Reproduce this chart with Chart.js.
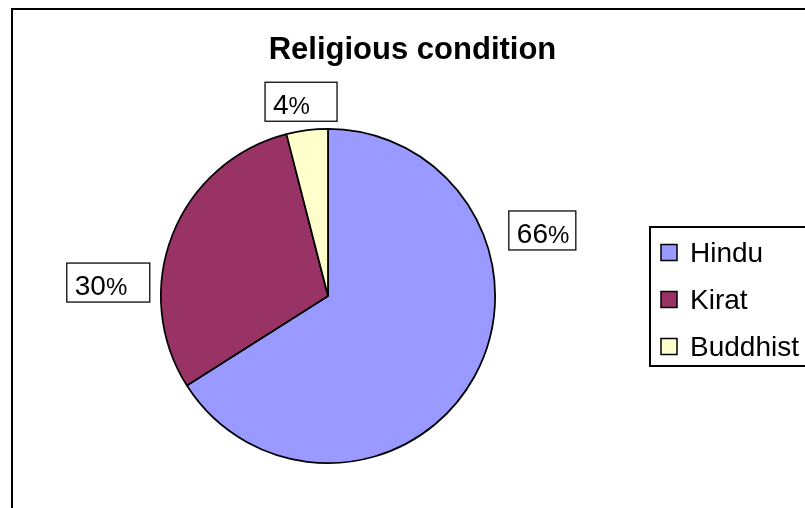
<!DOCTYPE html>
<html>
<head>
<meta charset="utf-8">
<script src="https://cdn.jsdelivr.net/npm/chart.js@4/dist/chart.umd.min.js"></script>
<style>
  html, body { margin: 0; padding: 0; background: #fff; }
  canvas { display: block; }
</style>
</head>
<body>
<canvas id="c" width="805" height="508"></canvas>
<script>
const chartTitle = 'Religious condition';
const religions = ['Hindu', 'Kirat', 'Buddhist'];
const shares = [66, 30, 4];
const sliceColors = ['#9999FF', '#993366', '#FFFFCC'];

const FONT = '"Liberation Sans", Arial, Helvetica, sans-serif';

// White page with the chart frame (its right and bottom edges run past the canvas)
const framePlugin = {
  id: 'frame',
  beforeDraw(chart) {
    const ctx = chart.ctx;
    ctx.save();
    ctx.fillStyle = '#ffffff';
    ctx.fillRect(0, 0, chart.width, chart.height);
    ctx.strokeStyle = '#000000';
    ctx.lineWidth = 2;
    ctx.strokeRect(12, 9, 900, 600);
    ctx.restore();
  }
};

// Bold heading above the pie
const headingPlugin = {
  id: 'heading',
  afterDraw(chart, args, opts) {
    const ctx = chart.ctx;
    ctx.save();
    ctx.fillStyle = '#000';
    ctx.font = 'bold 31px ' + FONT;
    ctx.textAlign = 'center';
    ctx.textBaseline = 'alphabetic';
    ctx.fillText(opts.text, opts.x, opts.y);
    ctx.restore();
  }
};

// Boxed legend on the right
const boxLegendPlugin = {
  id: 'boxLegend',
  afterDraw(chart, args, opts) {
    const ctx = chart.ctx;
    const ds = chart.data.datasets[0];
    ctx.save();
    ctx.strokeStyle = '#000';
    ctx.lineWidth = 2;
    ctx.strokeRect(opts.left, opts.top, opts.width, opts.height);
    ctx.font = opts.fontSize + 'px ' + FONT;
    ctx.textBaseline = 'alphabetic';
    ctx.textAlign = 'left';
    chart.data.labels.forEach((lab, i) => {
      const cy = opts.top + opts.firstOffset + i * opts.step;
      const s = opts.swatch;
      ctx.fillStyle = ds.backgroundColor[i];
      ctx.fillRect(opts.left + opts.swatchInset, cy - s / 2, s, s);
      ctx.lineWidth = 1.5;
      ctx.strokeRect(opts.left + opts.swatchInset, cy - s / 2, s, s);
      ctx.fillStyle = '#000';
      ctx.fillText(lab, opts.left + opts.textInset, cy + 9.5);
    });
    ctx.restore();
  }
};

// Percentage labels in white boxes around the pie
const sliceLabelPlugin = {
  id: 'sliceLabels',
  afterDatasetsDraw(chart, args, opts) {
    const ctx = chart.ctx;
    const meta = chart.getDatasetMeta(0);
    const data = chart.data.datasets[0].data;
    const total = data.reduce((a, b) => a + b, 0);
    ctx.save();
    meta.data.forEach((arc, i) => {
      const p = arc.getProps(['x', 'y', 'startAngle', 'endAngle', 'outerRadius'], true);
      const place = opts.placement[i];
      const ang = (p.startAngle + p.endAngle) / 2 + place.turn * Math.PI / 180;
      const d = p.outerRadius + place.gap;
      const cx = p.x + d * Math.cos(ang);
      const cy = p.y + d * Math.sin(ang);
      const w = place.width, h = 39;
      const left = cx - w / 2, top = cy - h / 2;
      ctx.fillStyle = '#fff';
      ctx.fillRect(left, top, w, h);
      ctx.strokeStyle = '#000';
      ctx.lineWidth = 1.25;
      ctx.strokeRect(left, top, w, h);
      const pct = Math.round(data[i] / total * 100);
      const digits = String(pct);
      ctx.fillStyle = '#000';
      ctx.textAlign = 'left';
      ctx.textBaseline = 'alphabetic';
      ctx.font = '28px ' + FONT;
      const base = top + h - 7;
      ctx.fillText(digits, left + 8, base);
      const dw = ctx.measureText(digits).width;
      ctx.font = '24px ' + FONT;
      ctx.fillText('%', left + 8 + dw, base);
    });
    ctx.restore();
  }
};

new Chart(document.getElementById('c'), {
  type: 'pie',
  data: {
    labels: religions,
    datasets: [{
      data: shares,
      backgroundColor: sliceColors,
      borderColor: '#000',
      borderWidth: 1.75,
      hoverOffset: 0
    }]
  },
  options: {
    responsive: false,
    animation: false,
    devicePixelRatio: 1,
    layout: { padding: { left: 0, right: 149, top: 128, bottom: 44 } },
    plugins: {
      legend: { display: false },
      title: { display: false },
      tooltip: { enabled: false },
      heading: { text: chartTitle, x: 412.5, y: 59 },
      boxLegend: {
        left: 650, top: 227, width: 200, height: 139,
        firstOffset: 25.5, step: 47, swatch: 16,
        swatchInset: 11, textInset: 40, fontSize: 28
      },
      sliceLabels: {
        placement: [
          { turn: -45.8, gap: 57, width: 67 },
          { turn: -18.1, gap: 53, width: 83 },
          { turn: -0.7, gap: 29, width: 72 }
        ]
      }
    }
  },
  plugins: [framePlugin, sliceLabelPlugin, headingPlugin, boxLegendPlugin]
});
</script>
</body>
</html>
